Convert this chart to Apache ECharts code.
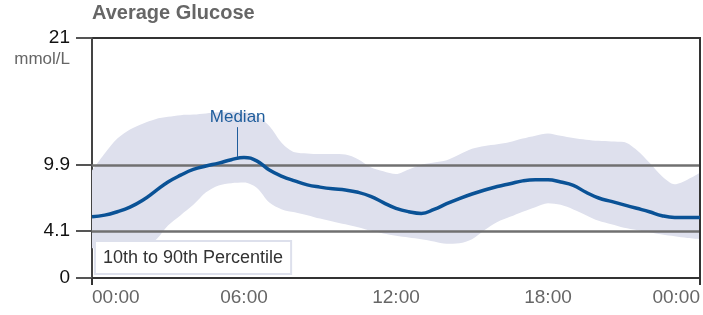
<!DOCTYPE html>
<html>
<head>
<meta charset="utf-8">
<script src="https://cdn.jsdelivr.net/npm/echarts@6/dist/echarts.min.js"></script>
<style>
  html, body { margin: 0; padding: 0; background: #fff; }
  #chart { width: 703px; height: 315px; }
</style>
</head>
<body>
<div id="chart"></div>
<script>
// hours of the day, half-hour steps
const hours = [];
for (let k = 0; k <= 48; k++) hours.push(k / 2);

const median = [5.35, 5.5, 5.8, 6.2, 6.8, 7.6, 8.4, 9.0, 9.5, 9.8, 10.05, 10.35, 10.55, 10.25, 9.45, 8.9,
  8.5, 8.15, 7.95, 7.8, 7.7, 7.5, 7.15, 6.6, 6.1, 5.8, 5.65, 6.0, 6.5, 6.95, 7.35, 7.7,
  8.0, 8.25, 8.5, 8.6, 8.6, 8.4, 8.1, 7.5, 7.0, 6.7, 6.4, 6.1, 5.8, 5.45, 5.3, 5.3, 5.3];
const p10 = [2.6, 2.6, 2.6, 2.6, 2.8, 3.3, 4.6, 5.5, 6.4, 7.5, 8.1, 8.3, 8.35, 7.9, 6.6, 6.0,
  5.75, 5.5, 5.2, 4.95, 4.7, 4.45, 4.15, 3.9, 3.7, 3.55, 3.4, 3.2, 3.0, 3.05, 3.4, 4.2,
  4.9, 5.35, 5.8, 6.2, 6.55, 6.4, 6.0, 5.5, 5.0, 4.7, 4.4, 4.2, 4.0, 3.8, 3.65, 3.5, 3.4];
const p90 = [9.4, 10.9, 12.2, 13.0, 13.5, 13.9, 14.1, 14.25, 14.3, 14.4, 14.5, 14.55, 14.5, 14.2, 13.3, 11.8,
  11.0, 10.9, 10.85, 10.85, 10.8, 10.4, 9.7, 9.35, 9.1, 9.5, 9.9, 10.1, 10.3, 10.8, 11.3, 11.55,
  11.7, 11.9, 12.2, 12.45, 12.65, 12.45, 12.25, 12.1, 12.0, 11.95, 11.9, 11.2, 10.1, 8.9, 8.2, 8.6, 9.2];

const yTicks = [0, 4.1, 9.9, 21];
const refLines = [9.9, 4.1];
const xTickLabels = ['00:00', '06:00', '12:00', '18:00', '00:00'];
const medianNote = { hour: 5.75, from: 10.6, to: 13.2, text: 'Median' };
const bandName = '10th to 90th Percentile';

const FONT = 'Liberation Sans, Arial, sans-serif';
const chart = echarts.init(document.getElementById('chart'));

const pairs = (vals) => hours.map((h, i) => [h, vals[i]]);

chart.setOption({
  animation: false,
  title: {
    text: 'Average Glucose',
    left: 92,
    top: 3,
    padding: 0,
    textStyle: { fontSize: 20, fontWeight: 'bold', color: '#666', fontFamily: FONT }
  },
  legend: {
    data: [bandName],
    left: 95,
    top: 241,
    icon: 'none',
    itemWidth: 0,
    itemHeight: 20,
    padding: [7, 8, 7, 3],
    backgroundColor: '#fff',
    borderColor: '#dde0ec',
    borderWidth: 2,
    selectedMode: false,
    textStyle: { fontSize: 18, color: '#333', fontFamily: FONT }
  },
  graphic: [{
    type: 'text',
    right: 633,
    top: 51,
    style: { text: 'mmol/L', fontSize: 17, fill: '#666', fontFamily: FONT }
  }],
  grid: {
    left: 92, right: 3, top: 38, bottom: 37,
    show: true, borderColor: '#333', borderWidth: 2, backgroundColor: 'transparent'
  },
  xAxis: [
    {
      type: 'value',
      min: 0, max: 24, interval: 6,
      axisLine: { show: true, lineStyle: { color: '#333', width: 2 } },
      axisTick: { show: true, customValues: [0, 24], length: 7, lineStyle: { color: '#333', width: 2 } },
      axisLabel: {
        margin: 10,
        fontSize: 19,
        color: '#666',
        fontFamily: FONT,
        alignMinLabel: 'left',
        alignMaxLabel: 'right',
        formatter: (v) => xTickLabels[Math.round(v / 6)]
      },
      splitLine: { show: true, lineStyle: { color: '#a0a0a0', width: 2 } }
    },
    {
      // hidden category axis so the band can be stacked by index
      type: 'category',
      data: hours,
      boundaryGap: false,
      show: false
    }
  ],
  yAxis: {
    type: 'value',
    min: 0, max: 21,
    axisLine: { show: true, lineStyle: { color: '#444', width: 2 } },
    axisTick: { show: true, customValues: yTicks, length: 16, lineStyle: { color: '#555', width: 2 } },
    axisLabel: {
      customValues: yTicks,
      margin: 22,
      fontSize: 19,
      color: '#111',
      fontFamily: FONT
    },
    splitLine: { show: false }
  },
  series: [
    {
      name: 'p10',
      type: 'line',
      xAxisIndex: 1,
      stack: 'band',
      data: p10,
      smooth: 0.3,
      symbol: 'none',
      lineStyle: { opacity: 0 },
      silent: true,
      z: 2
    },
    {
      name: bandName,
      type: 'line',
      xAxisIndex: 1,
      stack: 'band',
      data: p90.map((v, i) => v - p10[i]),
      smooth: 0.3,
      symbol: 'none',
      color: '#dee0ed',
      lineStyle: { opacity: 0 },
      areaStyle: { color: '#dee0ed', opacity: 1 },
      silent: true,
      z: 2
    },
    {
      name: 'Median',
      type: 'line',
      xAxisIndex: 0,
      data: pairs(median),
      smooth: 0.45,
      symbol: 'none',
      lineStyle: { color: '#0a5296', width: 3.5 },
      z: 6,
      markLine: {
        silent: true,
        symbol: ['none', 'none'],
        z: 5,
        label: { show: false },
        data: refLines.map((v) => ({ yAxis: v, lineStyle: { color: '#707070', width: 2.5, type: 'solid' } }))
          .concat([{ xAxis: 24, lineStyle: { color: '#333', width: 2, type: 'solid' } }])
          .concat([[
            {
              coord: [medianNote.hour, medianNote.from],
              lineStyle: { color: '#1f5d9c', width: 1, type: 'solid' },
              label: {
                show: true,
                position: 'end',
                distance: 1,
                formatter: medianNote.text,
                color: '#1f5d9c',
                fontSize: 17,
                fontFamily: FONT
              }
            },
            { coord: [medianNote.hour, medianNote.to] }
          ]])
      }
    }
  ]
});

window.addEventListener('resize', () => chart.resize());
</script>
</body>
</html>
